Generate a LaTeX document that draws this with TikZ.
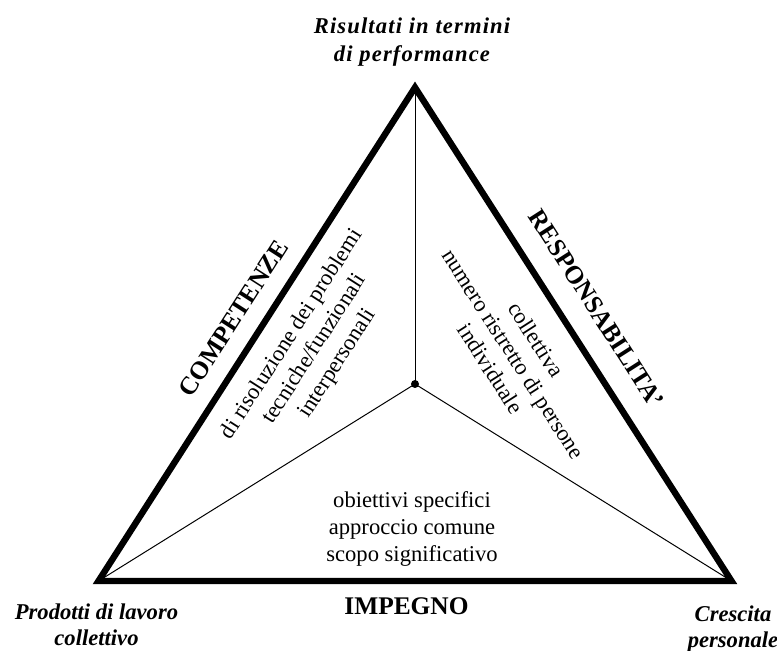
\documentclass[tikz,border=0pt]{standalone}
\usepackage{fontspec}
\setmainfont{Liberation Serif}
\newfontfamily\spacedserif{Liberation Serif}[LetterSpace=5]
\tikzset{
  sidename/.style={font=\fontsize{12.7}{15}\selectfont\bfseries, inner sep=0pt},
  sidetext/.style={font=\fontsize{11.3}{13.5}\selectfont, align=center, inner sep=0pt},
  vertexlabel/.style={font=\fontsize{11.3}{13}\selectfont\bfseries\itshape, align=center, inner sep=0pt},
}
\begin{document}
\begin{tikzpicture}[x=0.5pt,y=-0.5pt]
  \useasboundingbox (0,0) rectangle (777,651);
  \coordinate (top) at (415,87.5);
  \coordinate (left) at (98.5,581);
  \coordinate (right) at (731.5,581);
  \coordinate (centre) at (415,384);

  \draw[line width=0.5pt] (centre) -- (top);
  \draw[line width=0.5pt] (centre) -- (left);
  \draw[line width=0.5pt] (centre) -- (right);
  \fill (centre) circle[radius=2pt];
  \draw[line width=3.2pt] (top) -- (left) -- (right) -- cycle;

  \node[vertexlabel,font=\fontsize{11.3}{14}\spacedserif\bfseries\itshape] (perf) at (412,42) {Risultati in termini\\di performance};
  \node[vertexlabel] (prod) at (96.5,625) {Prodotti di lavoro\\collettivo};
  \node[vertexlabel] (cresc) at (733,629) {Crescita\\personale};

  \node[sidename,rotate=57.33] (comp) at (233.5,318.5) {COMPETENZE};
  \node[sidename,rotate=-57.33] (resp) at (596.5,308.5) {RESPONSABILITA'};
  \node[sidename] (imp) at (406.5,606) {IMPEGNO};

  \node[sidetext,rotate=57.33] (comptext) at (315,349) {di risoluzione dei problemi\\tecniche/funzionali\\interpersonali};
  \node[sidetext,rotate=-57.33] (resptext) at (513.5,354) {collettiva\\numero ristretto di persone\\individuale};
  \node[sidetext] (imptext) at (412,529) {obiettivi specifici\\approccio comune\\scopo significativo};
\end{tikzpicture}
\end{document}
